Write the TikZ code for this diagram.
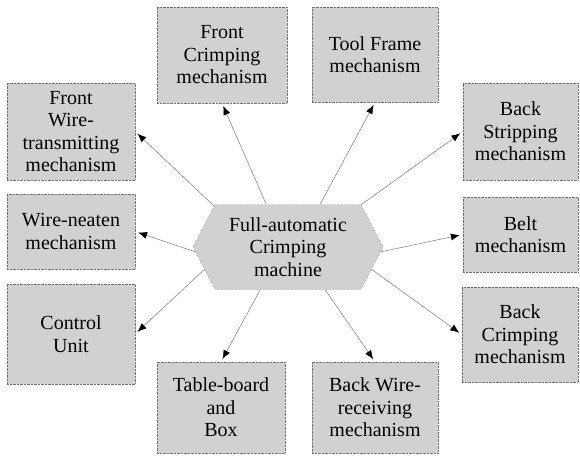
\documentclass[tikz,border=0pt]{standalone}
\usepackage{fontspec}
\setmainfont{Liberation Serif}
\usetikzlibrary{arrows.meta,shapes.symbols}

\begin{document}
\begin{tikzpicture}
	[x=1pt,y=1pt,
	part/.style={draw=black!55,densely dotted,fill=black!18,align=center,
		font=\fontsize{20}{22.5}\selectfont,inner sep=2pt},
	hub/.style={part,signal,signal to=east and west,signal pointer angle=125,
		minimum width=190pt,minimum height=85pt},
	link/.style={draw=black!45,line width=0.6pt,shorten >=3pt,
		-{Latex[color=black,length=9pt,width=7pt]}}]
	\useasboundingbox (0,0) rectangle (580,456);
	\node[hub] (hub) at (288,209) {Full-automatic\\Crimping\\machine};
	% top row
	\node[part,minimum width=130pt,minimum height=96pt] (frontcrimp) at (222,401) {Front\\Crimping\\mechanism};
	\node[part,minimum width=126pt,minimum height=95pt] (toolframe) at (375,401.5) {Tool Frame\\mechanism};
	% left column
	\node[part,minimum width=128pt,minimum height=97pt] (frontwire) at (71,324.5) {Front\\Wire-\\transmitting\\mechanism};
	\node[part,minimum width=128pt,minimum height=75pt] (neaten) at (71,224.5) {Wire-neaten\\mechanism};
	\node[part,minimum width=128pt,minimum height=100pt] (control) at (71,122) {Control\\Unit};
	% right column
	\node[part,minimum width=115pt,minimum height=97pt] (stripping) at (520.5,324.5) {Back\\Stripping\\mechanism};
	\node[part,minimum width=115pt,minimum height=75pt] (belt) at (520.5,221.5) {Belt\\mechanism};
	\node[part,minimum width=116pt,minimum height=95pt] (backcrimp) at (520,121.5) {Back\\Crimping\\mechanism};
	% bottom row
	\node[part,minimum width=128pt,minimum height=91pt] (table) at (221,48.5) {Table-board\\and\\Box};
	\node[part,minimum width=126pt,minimum height=91pt] (backwire) at (375,48.5) {Back Wire-\\receiving\\mechanism};
	% links
	\draw[link] (hub.151) -- (frontwire.east);
	\draw[link] (hub.117) -- (frontcrimp.south);
	\draw[link] (hub.53) -- (toolframe.south);
	\draw[link] (hub.30) -- (stripping.west);
	\draw[link] (hub.183) -- (neaten.east);
	\draw[link] (hub.357) -- (belt.west);
	\draw[link] (hub.195) -- (control.east);
	\draw[link] (hub.345) -- (backcrimp.west);
	\draw[link] (hub.237) -- (table.north);
	\draw[link] (hub.311) -- (backwire.north);
\end{tikzpicture}
\end{document}
